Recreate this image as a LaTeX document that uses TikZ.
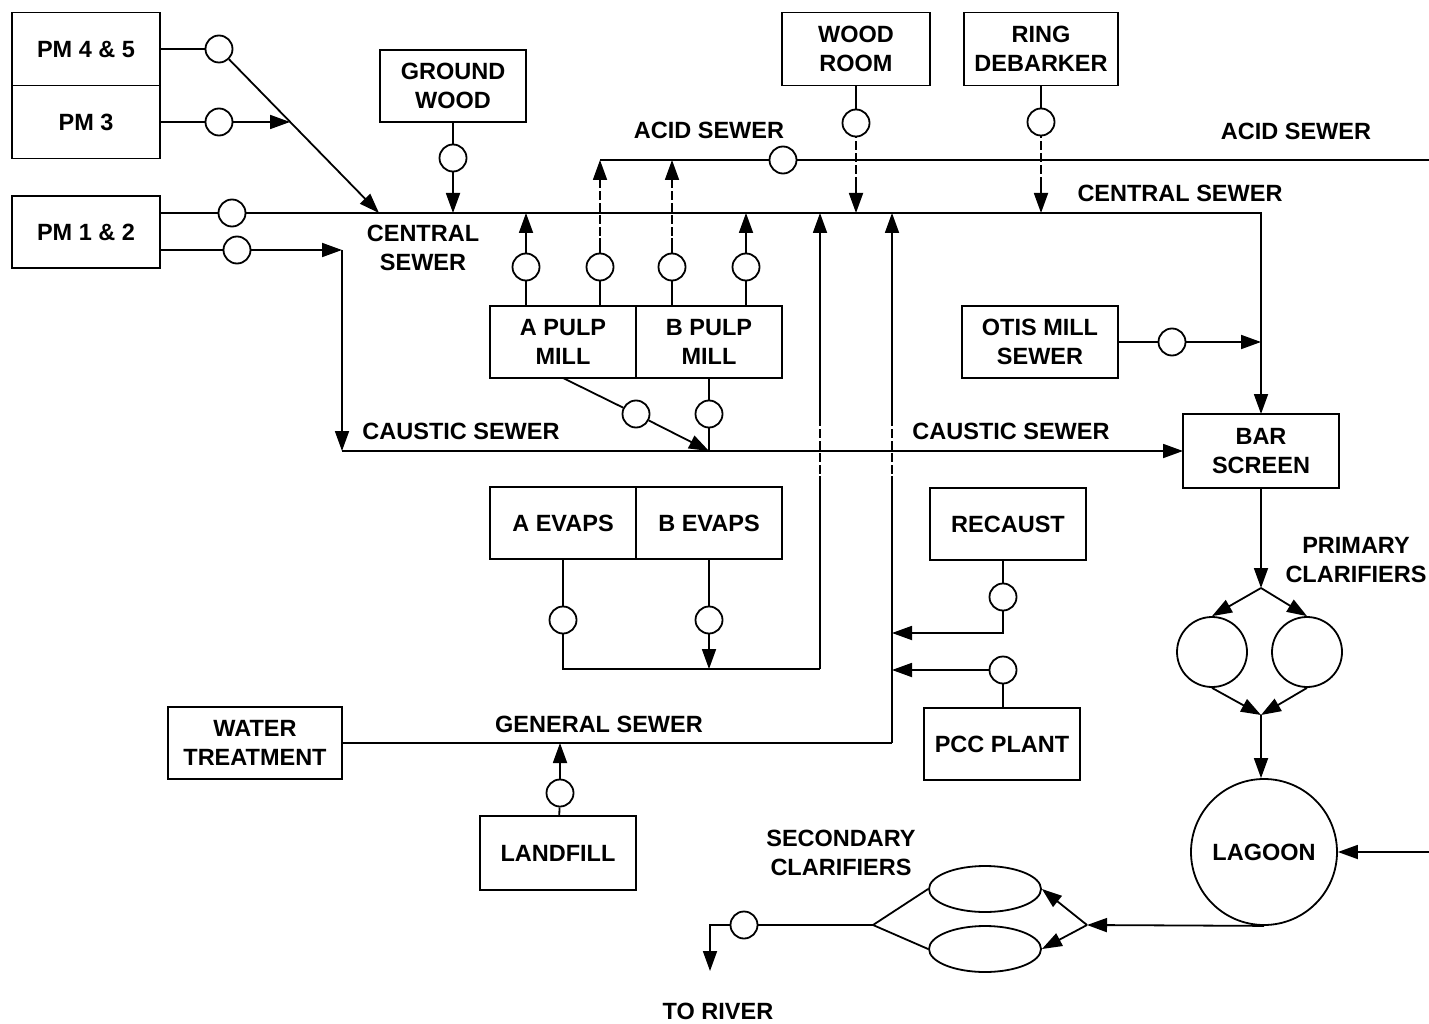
\documentclass[tikz,border=0pt]{standalone}
\usepackage{fontspec}
\setmainfont{Liberation Sans}
\usetikzlibrary{positioning, calc, arrows.meta, shapes.geometric}

\begin{document}
\begin{tikzpicture}[x=1pt, y=-1pt, line width=1.8pt,
  every node/.style={align=center, font=\fontsize{23.5}{29.5}\selectfont\bfseries},
  box/.style={draw, rectangle, minimum width=146pt, minimum height=73pt, inner sep=2pt, outer sep=0pt},
  meter/.style={draw, circle, minimum size=27pt, inner sep=0pt, fill=white},
  tank/.style={draw, circle, inner sep=0pt},
  basin/.style={draw, ellipse, minimum width=112pt, minimum height=46pt, inner sep=0pt},
  arr/.style={-{Triangle[length=20pt, width=14pt]}},
  brk/.style={white, line width=3pt, dash pattern=on 3pt off 9pt}]
 \useasboundingbox (0,0) rectangle (1429,1024);
 \node[box, minimum width=148pt] (pm45) at (86,49) {PM 4 \& 5};
 \node[box, minimum width=148pt, below=0pt of pm45] (pm3) {PM 3};
 \node[box, minimum width=148pt, minimum height=72pt] (pm12) at (86,232) {PM 1 \& 2};
 \node[box, minimum height=72pt] (gw) at (453,86) {GROUND\\WOOD};
 \node[box, minimum width=148pt] (wr) at (856,49) {WOOD\\ROOM};
 \node[box, minimum width=154pt] (rd) at (1041,49) {RING\\DEBARKER};
 \node[box, minimum height=72pt] (apm) at (563,342) {A PULP\\MILL};
 \node[box, minimum height=72pt, right=0pt of apm] (bpm) {B PULP\\MILL};
 \node[box, minimum width=156pt, minimum height=72pt] (otis) at (1040,342) {OTIS MILL\\SEWER};
 \node[box, minimum width=156pt, minimum height=74pt] (bar) at (1261,451) {BAR\\SCREEN};
 \node[box, minimum height=72pt] (aev) at (563,523) {A EVAPS};
 \node[box, minimum height=72pt, right=0pt of aev] (bev) {B EVAPS};
 \node[box, minimum width=156pt, minimum height=72pt] (rec) at (1008,524) {RECAUST};
 \node[box, minimum width=174pt, minimum height=72pt] (wt) at (255,743) {WATER\\TREATMENT};
 \node[box, minimum width=156pt, minimum height=72pt] (pcc) at (1002,744) {PCC PLANT};
 \node[box, minimum width=156pt, minimum height=74pt] (lf) at (558,853) {LANDFILL};
 \node[tank, minimum size=70pt] (pc1) at (1212,652) {};
 \node[tank, minimum size=70pt] (pc2) at (1307,652) {};
 \node[tank, minimum size=146pt] (lag) at (1264,852) {LAGOON};
 \node[basin] (sc1) at (985,889) {};
 \node[basin] (sc2) at (985,949) {};
 \node[meter] (m45) at (219,49) {};
 \node[meter] (m3) at (219,122) {};
 \node[meter] (m12a) at (232,213) {};
 \node[meter] (m12b) at (237,250) {};
 \node[meter] (mgw) at (453,158) {};
 \node[meter] (mwr) at (856,123) {};
 \node[meter] (mrd) at (1041,122) {};
 \node[meter] (macid) at (783,160) {};
 \node[meter] (mp1) at (526,267) {};
 \node[meter] (mp2) at (600,267) {};
 \node[meter] (mp3) at (672,267) {};
 \node[meter] (mp4) at (746,267) {};
 \node[meter] (mpa) at (636,414) {};
 \node[meter] (mpb) at (709,414) {};
 \node[meter] (mea) at (563,620) {};
 \node[meter] (meb) at (709,620) {};
 \node[meter] (mrec) at (1003,597) {};
 \node[meter] (mpcc) at (1003,670) {};
 \node[meter] (motis) at (1172,342) {};
 \node[meter] (mlf) at (560,793) {};
 \node[meter] (mout) at (744,925) {};
 \node (acid1) at (709,130) {ACID SEWER};
 \node (acid2) at (1296,131) {ACID SEWER};
 \node (cent1) at (1180,193) {CENTRAL SEWER};
 \node (cent2) at (423,248) {CENTRAL\\SEWER};
 \node (caus1) at (461,431) {CAUSTIC SEWER};
 \node (caus2) at (1011,431) {CAUSTIC SEWER};
 \node (prim) at (1356,560) {PRIMARY\\CLARIFIERS};
 \node (gen) at (599,724) {GENERAL SEWER};
 \node (sec) at (841,853) {SECONDARY\\CLARIFIERS};
 \node (river) at (718,1011) {TO RIVER};
 \coordinate (cs) at (160,213);
 \coordinate (csE) at (1261,213);
 \coordinate (as) at (600,160);
 \coordinate (asE) at (1429,160);
 \coordinate (cv) at (342,250);
 \coordinate (cj) at (342,451);
 \coordinate (pj) at (709,451);
 \coordinate (j45) at (379,213);
 \coordinate (j3) at (290,122);
 \coordinate (ret) at (820,669);
 \coordinate (gs) at (892,743);
 \coordinate (jr) at (892,633);
 \coordinate (ps) at (1261,588);
 \coordinate (pjn) at (1261,715);
 \coordinate (lin) at (1429,852);
 \coordinate (sj) at (1087,925);
 \coordinate (sw) at (873,925);
 \coordinate (tr) at (710,971);
 \draw (pm45.east) -- (m45);
 \draw[arr] (m45) -- (j45);
 \draw (pm3.east |- m3) -- (m3);
 \draw[arr] (m3) -- (j3);
 \draw (pm12.east |- m12b) -- (m12b);
 \draw[arr] (m12b) -- (cv);
 \draw[arr] (cv) -- (cj);
 \draw (gw) -- (mgw);
 \draw[arr] (mgw) -- (mgw |- cs);
 \draw (wr) -- (mwr);
 \draw[arr] (mwr) -- (mwr |- cs);
 \draw (rd) -- (mrd);
 \draw[arr] (mrd) -- (mrd |- cs);
 \draw (apm.north -| mp1) -- (mp1);
 \draw[arr] (mp1) -- (mp1 |- cs);
 \draw (apm.north -| mp2) -- (mp2);
 \draw[arr] (mp2) -- (mp2 |- as);
 \draw (bpm.north -| mp3) -- (mp3);
 \draw[arr] (mp3) -- (mp3 |- as);
 \draw (bpm.north -| mp4) -- (mp4);
 \draw[arr] (mp4) -- (mp4 |- cs);
 \draw (apm.south) -- (mpa);
 \draw[arr] (mpa) -- (pj);
 \draw (bpm.south) -- (mpb);
 \draw (mpb) -- (pj);
 \draw (aev) -- (mea);
 \draw (mea) |- (ret);
 \draw (bev) -- (meb);
 \draw[arr] (meb) -- (meb |- ret);
 \draw[arr] (ret) -- (ret |- cs);
 \draw (rec.south -| mrec) -- (mrec);
 \draw[arr] (mrec) |- (jr);
 \draw (pcc.north -| mpcc) -- (mpcc);
 \draw[arr] (mpcc) -- (mpcc -| gs);
 \draw (wt.east) -- (gs);
 \draw[arr] (gs) -- (gs |- cs);
 \draw (lf) -- (mlf);
 \draw[arr] (mlf) -- (mlf |- gs);
 \draw (otis) -- (motis);
 \draw[arr] (motis) -- (motis -| csE);
 \draw[brk] ($(mwr |- as)+(0,-22)$) -- ($(mwr |- as)+(0,22)$);
 \draw[brk] ($(mrd |- as)+(0,-22)$) -- ($(mrd |- as)+(0,22)$);
 \draw[brk] ($(mp2 |- cs)+(0,-25)$) -- ($(mp2 |- cs)+(0,25)$);
 \draw[brk] ($(mp3 |- cs)+(0,-25)$) -- ($(mp3 |- cs)+(0,25)$);
 \draw[brk] ($(ret |- cj)+(0,-25)$) -- ($(ret |- cj)+(0,25)$);
 \draw[brk] ($(gs |- cj)+(0,-25)$) -- ($(gs |- cj)+(0,25)$);
 \draw (cs) -- (m12a);
 \draw[arr] (m12a) -- (csE) -- (bar.north);
 \draw (as) -- (macid);
 \draw (macid) -- (asE);
 \draw[arr] (cj) -- (bar.west);
 \draw[arr] (bar) -- (ps);
 \draw[arr] (ps) -- (pc1.north);
 \draw[arr] (ps) -- (pc2.north);
 \draw[arr] (pc1.south) -- (pjn);
 \draw[arr] (pc2.south) -- (pjn);
 \draw[arr] (pjn) -- (pjn |- lag.north);
 \draw[arr] (lin) -- (lag);
 \draw[arr] (lag.south) -- (sj);
 \draw[arr] (sj) -- (sc1.east);
 \draw[arr] (sj) -- (sc2.east);
 \draw (sc1.west) -- (sw) -- (sc2.west);
 \draw (sw) -- (mout);
 \draw[arr] (mout) -| (tr);
\end{tikzpicture}
\end{document}
